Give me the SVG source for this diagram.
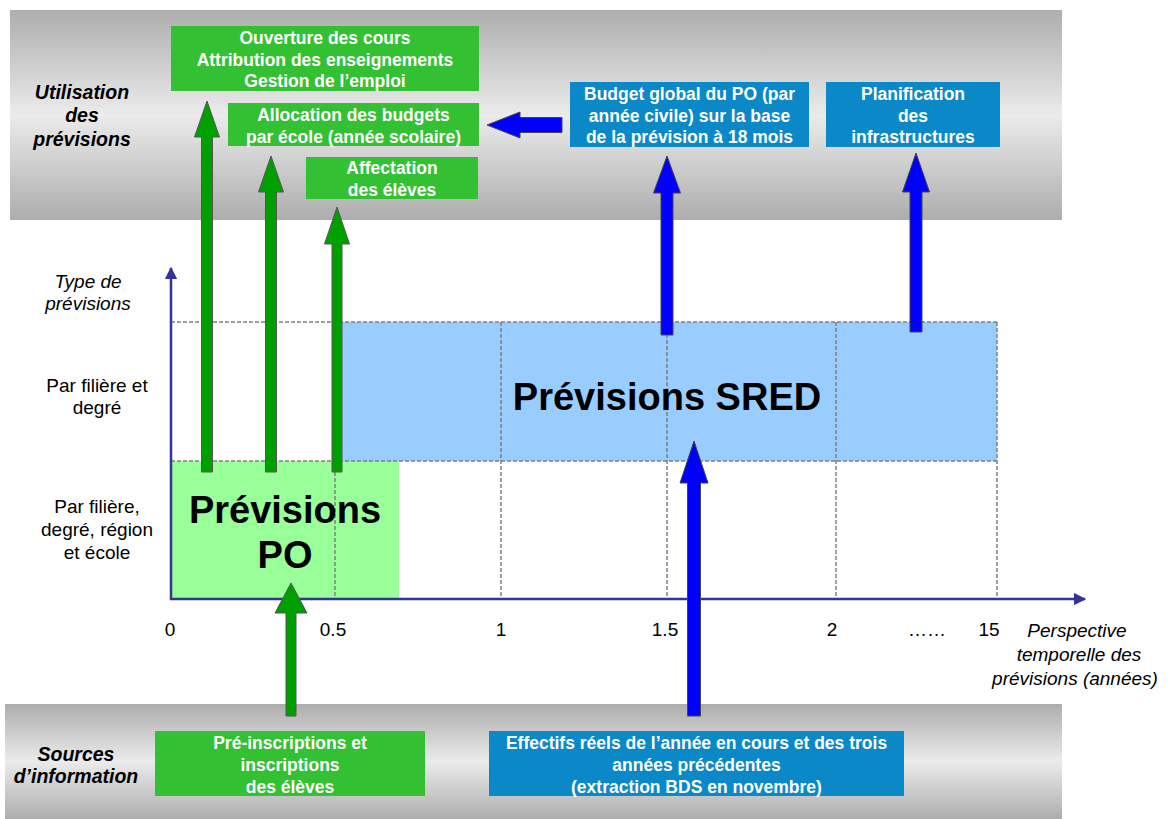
<svg xmlns="http://www.w3.org/2000/svg" width="1175" height="819" viewBox="0 0 1175 819">
<defs>
<linearGradient id="band" x1="0" y1="0" x2="0" y2="1">
<stop offset="0" stop-color="#adadad"/>
<stop offset="0.5" stop-color="#ebebeb"/>
<stop offset="1" stop-color="#adadad"/>
</linearGradient>
<marker id="axhead" viewBox="0 0 10 10" refX="9" refY="5" markerWidth="5" markerHeight="5" orient="auto" markerUnits="strokeWidth">
<path d="M0,0 L10,5 L0,10 z" fill="#333399"/>
</marker>
<style>
.box-g{fill:#33c033}
.box-b{fill:#0a88c8}
.bt{font-family:"Liberation Sans",Arial,sans-serif;font-weight:bold;font-size:17.5px;fill:#ffffff;text-anchor:middle}
.lbl{font-family:"Liberation Sans",Arial,sans-serif;font-size:19px;fill:#000;text-anchor:middle}
.it{font-style:italic}
.ttl{font-family:"Liberation Sans",Arial,sans-serif;font-size:19.5px;font-weight:bold;font-style:italic;fill:#000;text-anchor:middle}
.big{font-family:"Liberation Sans",Arial,sans-serif;font-size:38px;font-weight:bold;fill:#000;text-anchor:middle}
.grid{stroke:#808080;stroke-width:1.5;stroke-dasharray:4,2;fill:none}
.ga{fill:#009f00;stroke:#555;stroke-width:1}
.ba{fill:#0000ff;stroke:#444;stroke-width:1}
.axis{stroke:#333399;stroke-width:2.5;fill:none}
</style>
</defs>

<!-- bands -->
<rect x="10" y="10" width="1052" height="210" fill="url(#band)"/>
<rect x="5" y="704" width="1057" height="115" fill="url(#band)"/>

<!-- chart regions -->
<g id="region-sred"><rect x="336" y="322" width="661" height="139" fill="#99ccff"/></g>
<g id="region-po"><rect x="171" y="461" width="228" height="138" fill="#99ff99"/></g>

<!-- grid -->
<g id="grid">
<line class="grid" x1="171" y1="322" x2="997" y2="322"/>
<line class="grid" x1="171" y1="461" x2="997" y2="461"/>
<line class="grid" x1="335" y1="322" x2="335" y2="599"/>
<line class="grid" x1="501" y1="322" x2="501" y2="599"/>
<line class="grid" x1="667" y1="322" x2="667" y2="599"/>
<line class="grid" x1="836" y1="322" x2="836" y2="599"/>
<line class="grid" x1="997" y1="322" x2="997" y2="599" stroke="#c8c8c8"/>
</g>

<text class="big" x="285" y="523">Prévisions</text>
<text class="big" x="285" y="568">PO</text>
<text class="big" x="667" y="410">Prévisions SRED</text>

<!-- axes -->
<g id="axes">
<line class="axis" x1="171" y1="600" x2="171" y2="268" marker-end="url(#axhead)"/>
<line class="axis" x1="170" y1="599" x2="1085" y2="599" marker-end="url(#axhead)"/>
</g>

<!-- connectors -->
<g id="connectors">
<polygon class="ga" points="207,101 219.5,137 212.5,137 212.5,472 201.5,472 201.5,137 194.5,137"/>
<polygon class="ga" points="271,156 283.5,192 276.5,192 276.5,472 265.5,472 265.5,192 258.5,192"/>
<polygon class="ga" points="337,207 349.5,244 342,244 342,472 332,472 332,244 324.5,244"/>
<polygon class="ga" points="291,583 307,613 296,613 296,716 286,716 286,613 275,613"/>
<polygon class="ba" points="667,156 680.5,193 673,193 673,335 661,335 661,193 653.5,193"/>
<polygon class="ba" points="916,153 929.5,192 922,192 922,332 910,332 910,192 902.5,192"/>
<polygon class="ba" points="694,441 708,483 700.5,483 700.5,716 687.5,716 687.5,483 680,483"/>
<polygon class="ba" points="487,125 520,112 520,117.5 562,117.5 562,132.5 520,132.5 520,138"/>
</g>

<!-- usage nodes -->
<g id="n-ouverture">
<rect class="box-g" x="171" y="26" width="308" height="65"/>
<text class="bt" x="325" y="44">Ouverture des cours</text>
<text class="bt" x="325" y="65.5">Attribution des enseignements</text>
<text class="bt" x="325" y="87">Gestion de l’emploi</text>
</g>
<g id="n-allocation">
<rect class="box-g" x="228" y="103" width="251" height="43"/>
<text class="bt" x="353.5" y="121">Allocation des budgets</text>
<text class="bt" x="353.5" y="143">par école (année scolaire)</text>
</g>
<g id="n-affectation">
<rect class="box-g" x="306" y="157" width="172" height="42"/>
<text class="bt" x="392" y="174">Affectation</text>
<text class="bt" x="392" y="196">des élèves</text>
</g>
<g id="n-budget">
<rect class="box-b" x="570" y="82" width="239" height="65"/>
<text class="bt" x="689.5" y="100">Budget global du PO (par</text>
<text class="bt" x="689.5" y="122">année civile) sur la base</text>
<text class="bt" x="689.5" y="143">de la prévision à 18 mois</text>
</g>
<g id="n-planification">
<rect class="box-b" x="826" y="82" width="174" height="65"/>
<text class="bt" x="913" y="100">Planification</text>
<text class="bt" x="913" y="122">des</text>
<text class="bt" x="913" y="143">infrastructures</text>
</g>

<!-- source nodes -->
<g id="n-inscriptions">
<rect class="box-g" x="155" y="731" width="270" height="65"/>
<text class="bt" x="290" y="749">Pré-inscriptions et</text>
<text class="bt" x="290" y="771">inscriptions</text>
<text class="bt" x="290" y="793">des élèves</text>
</g>
<g id="n-effectifs">
<rect class="box-b" x="489" y="731" width="415" height="65"/>
<text class="bt" x="696.5" y="749">Effectifs réels de l’année en cours et des trois</text>
<text class="bt" x="696.5" y="771">années précédentes</text>
<text class="bt" x="696.5" y="793">(extraction BDS en novembre)</text>
</g>

<!-- labels -->
<g id="labels">
<text class="ttl" x="82" y="99">Utilisation</text>
<text class="ttl" x="82" y="122">des</text>
<text class="ttl" x="82" y="146">prévisions</text>
<text class="ttl" x="76" y="761">Sources</text>
<text class="ttl" x="76" y="783">d’information</text>

<text class="lbl it" x="88" y="288">Type de</text>
<text class="lbl it" x="88" y="310">prévisions</text>
<text class="lbl" x="97" y="392">Par filière et</text>
<text class="lbl" x="97" y="414">degré</text>
<text class="lbl" x="97" y="513">Par filière,</text>
<text class="lbl" x="97" y="536">degré, région</text>
<text class="lbl" x="97" y="559">et école</text>

<text class="lbl" x="170" y="636">0</text>
<text class="lbl" x="333" y="636">0.5</text>
<text class="lbl" x="501" y="636">1</text>
<text class="lbl" x="665" y="636">1.5</text>
<text class="lbl" x="832" y="636">2</text>
<text class="lbl" x="927" y="636">……</text>
<text class="lbl" x="989" y="636">15</text>
<text class="lbl it" x="1077" y="637">Perspective</text>
<text class="lbl it" x="1079" y="661">temporelle des</text>
<text class="lbl it" x="1075" y="685">prévisions (années)</text>
</g>
</svg>
